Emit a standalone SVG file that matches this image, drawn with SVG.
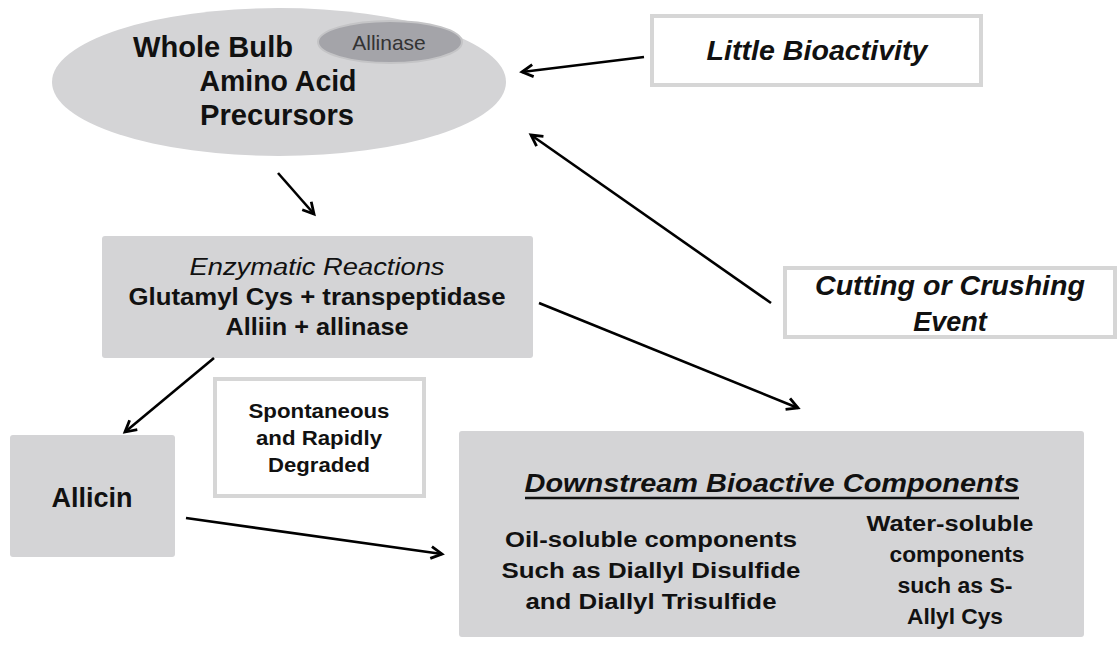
<svg xmlns="http://www.w3.org/2000/svg" width="1120" height="645" viewBox="0 0 1120 645">
<defs>
<marker id="arr" markerUnits="userSpaceOnUse" markerWidth="16" markerHeight="16" viewBox="0 0 16 16" refX="13" refY="8" orient="auto">
<path d="M2,2 L13,8 L2,14" fill="none" stroke="#000" stroke-width="2.8" stroke-linejoin="miter"/>
</marker>
</defs>
<style>
text{font-family:"Liberation Sans",Arial,sans-serif;fill:#111;text-anchor:middle}
.b{font-weight:bold}
.bi{font-weight:bold;font-style:italic}
.gray{fill:#d4d4d6}
.wbox{fill:#fff;stroke:#d6d6d6;stroke-width:4}
.conn line{stroke:#000;stroke-width:2.6;marker-end:url(#arr)}
</style>
<rect width="1120" height="645" fill="#fff"/>

<g id="whole-bulb">
<ellipse cx="279" cy="82" rx="227" ry="74" class="gray"/>
<ellipse cx="390" cy="42" rx="72" ry="21" fill="#a4a4a9" stroke="#c4c4c6" stroke-width="2"/>
<text x="389" y="50" font-size="21" style="fill:#333">Allinase</text>
<text x="213" y="57" font-size="29" class="b" textLength="160" lengthAdjust="spacingAndGlyphs">Whole Bulb</text>
<text x="278" y="91" font-size="29" class="b" textLength="157" lengthAdjust="spacingAndGlyphs">Amino Acid</text>
<text x="277" y="125" font-size="29" class="b" textLength="154" lengthAdjust="spacingAndGlyphs">Precursors</text>
</g>

<g id="little-bioactivity">
<rect x="652" y="16" width="329" height="69" class="wbox"/>
<text x="817" y="60" font-size="27" class="bi" textLength="221" lengthAdjust="spacingAndGlyphs">Little Bioactivity</text>
</g>

<g id="enzymatic">
<rect x="102" y="236" width="431" height="122" rx="3" class="gray"/>
<text x="317" y="275" font-size="23" font-style="italic" textLength="255" lengthAdjust="spacingAndGlyphs">Enzymatic Reactions</text>
<text x="317" y="305" font-size="24" class="b" textLength="377" lengthAdjust="spacingAndGlyphs">Glutamyl Cys + transpeptidase</text>
<text x="317" y="335" font-size="24" class="b" textLength="183" lengthAdjust="spacingAndGlyphs">Alliin + allinase</text>
</g>

<g id="cutting">
<rect x="785" y="268" width="330" height="69" class="wbox"/>
<text x="950" y="295" font-size="27" class="bi" textLength="270" lengthAdjust="spacingAndGlyphs">Cutting or Crushing</text>
<text x="950" y="331" font-size="27" class="bi">Event</text>
</g>

<g id="allicin">
<rect x="10" y="435" width="165" height="122" rx="3" class="gray"/>
<text x="92" y="507" font-size="27" class="b">Allicin</text>
</g>

<g id="spontaneous">
<rect x="215" y="379" width="209" height="117" class="wbox"/>
<text x="319" y="418" font-size="20" class="b" textLength="141" lengthAdjust="spacingAndGlyphs">Spontaneous</text>
<text x="319" y="445" font-size="20" class="b" textLength="126" lengthAdjust="spacingAndGlyphs">and Rapidly</text>
<text x="319" y="472" font-size="20" class="b" textLength="102" lengthAdjust="spacingAndGlyphs">Degraded</text>
</g>

<g id="downstream">
<rect x="459" y="431" width="625" height="206" rx="3" class="gray"/>
<text x="772" y="492" font-size="26" class="bi" textLength="495" lengthAdjust="spacingAndGlyphs">Downstream Bioactive Components</text>
<line x1="525" y1="498" x2="1019" y2="498" stroke="#111" stroke-width="2.5"/>
<text x="651" y="547" font-size="22" class="b" textLength="292" lengthAdjust="spacingAndGlyphs">Oil-soluble components</text>
<text x="651" y="578" font-size="22" class="b" textLength="299" lengthAdjust="spacingAndGlyphs">Such as Diallyl Disulfide</text>
<text x="651" y="609" font-size="22" class="b" textLength="251" lengthAdjust="spacingAndGlyphs">and Diallyl Trisulfide</text>
<text x="950" y="531" font-size="22" class="b" textLength="167" lengthAdjust="spacingAndGlyphs">Water-soluble</text>
<text x="957" y="562" font-size="22" class="b" textLength="135" lengthAdjust="spacingAndGlyphs">components</text>
<text x="955" y="593" font-size="22" class="b" textLength="115" lengthAdjust="spacingAndGlyphs">such as S-</text>
<text x="955" y="624" font-size="22" class="b" textLength="96" lengthAdjust="spacingAndGlyphs">Allyl Cys</text>
</g>

<g id="connectors" class="conn">
<line x1="278" y1="173" x2="314" y2="214"/>
<line x1="644" y1="57" x2="522" y2="72"/>
<line x1="771" y1="303" x2="531" y2="135"/>
<line x1="539" y1="303" x2="798" y2="408"/>
<line x1="214" y1="358" x2="125" y2="432"/>
<line x1="186" y1="518" x2="442" y2="554"/>
</g>
</svg>
